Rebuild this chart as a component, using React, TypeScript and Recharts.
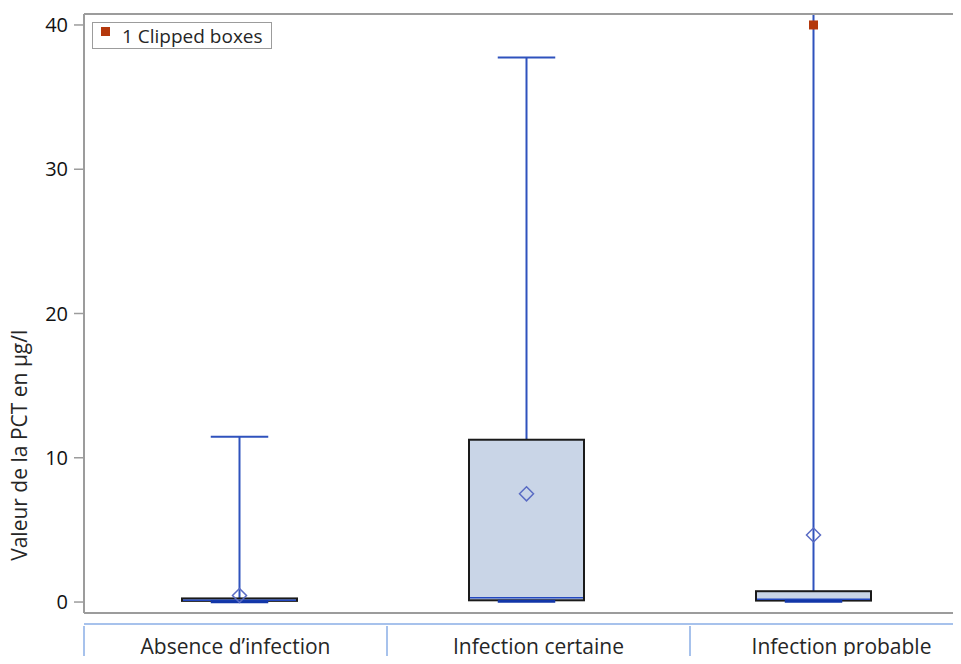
import { ComposedChart, Bar, Scatter, XAxis, YAxis, Legend } from 'recharts';

const groupes = ['Absence d\u2019infection', 'Infection certaine', 'Infection probable'];
const minimum = [0.02, 0.05, 0.05];
const q1 = [0.08, 0.12, 0.1];
const mediane = [0.12, 0.3, 0.2];
const q3 = [0.25, 11.25, 0.75];
const maximum = [11.45, 37.75, 40.76];
const moyenne = [0.45, 7.5, 4.65];
const tronque: (number | null)[] = [null, null, 40];
const yTicks = [0, 10, 20, 30, 40];

const FONT = '"Open Sans", "Noto Sans", sans-serif';
const GRIS = '#9c9c9c';
const BLEU = '#2f52bd';

const data = groupes.map((groupe, i) => ({
  groupe,
  moustache: [minimum[i], maximum[i]],
  q1: q1[i],
  mediane: mediane[i],
  q3: q3[i],
  moyenne: moyenne[i],
  tronque: tronque[i],
}));

// box + whiskers drawn inside the range bar [min, max]
function Boite(props: any) {
  const { x, y, width, height, payload } = props;
  const [lo, hi] = payload.moustache;
  const top = Math.min(y, y + height);
  const h = Math.abs(height);
  const py = (v: number) => top + (h * (hi - v)) / (hi - lo);
  const cx = x + width / 2;
  const demiCap = width / 4;
  const coupe = payload.tronque != null; // clipped whisker: no top cap
  return (
    <g>
      <line x1={cx} x2={cx} y1={py(hi)} y2={py(payload.q3)} stroke={BLEU} strokeWidth={2} />
      {!coupe && (
        <line x1={cx - demiCap} x2={cx + demiCap} y1={py(hi)} y2={py(hi)} stroke={BLEU} strokeWidth={2} />
      )}
      <rect
        x={x}
        y={py(payload.q3)}
        width={width}
        height={Math.max(py(payload.q1) - py(payload.q3), 1)}
        fill="#c9d5e7"
        stroke="#1a1a1a"
        strokeWidth={2}
      />
      <line x1={x + 1} x2={x + width - 1} y1={py(payload.mediane)} y2={py(payload.mediane)} stroke="#2348c0" strokeWidth={1.5} />
      <line x1={cx} x2={cx} y1={py(payload.q1)} y2={py(lo)} stroke={BLEU} strokeWidth={2} />
      <line x1={cx - demiCap} x2={cx + demiCap} y1={py(lo)} y2={py(lo)} stroke="#1236a8" strokeWidth={3} />
    </g>
  );
}

function Losange(props: any) {
  const { cx, cy } = props;
  if (cx == null || cy == null || isNaN(cy)) return <g />;
  const r = 7;
  return (
    <polygon
      points={`${cx},${cy - r} ${cx + r},${cy} ${cx},${cy + r} ${cx - r},${cy}`}
      fill="none"
      stroke="#5a6cc4"
      strokeWidth={1.5}
    />
  );
}

function Carre(props: any) {
  const { cx, cy, payload } = props;
  if (payload.tronque == null || cy == null || isNaN(cy)) return <g />;
  return <rect x={cx - 4.5} y={cy - 4.5} width={9} height={9} fill="#b4380c" />;
}

function CelluleTick(props: any) {
  const { x, y, payload } = props;
  const demi = payload.offset ?? 0;
  return (
    <g>
      <line x1={x - demi} x2={x - demi} y1={y} y2={y + 42} stroke="#8aaee6" strokeWidth={1.5} />
      <text x={x} y={y + 28} textAnchor="middle" fontFamily={FONT} fontSize={21} fill="#262626">
        {payload.value}
      </text>
    </g>
  );
}

function EtiquetteY(props: any) {
  const { viewBox } = props;
  const x = viewBox.x + 19;
  const y = viewBox.y + viewBox.height * 0.72;
  return (
    <text
      x={x}
      y={y}
      transform={`rotate(-90, ${x}, ${y})`}
      textAnchor="middle"
      dominantBaseline="central"
      fontFamily={FONT}
      fontSize={21}
      fill="#262626"
    >
      Valeur de la PCT en µg/l
    </text>
  );
}

function LegendeTronque() {
  const n = tronque.filter((v) => v != null).length;
  return (
    <div
      style={{
        border: `1.5px solid ${GRIS}`,
        width: 180,
        height: 27,
        boxSizing: 'border-box',
        display: 'flex',
        alignItems: 'center',
        fontFamily: FONT,
        fontSize: 19,
        color: '#262626',
        background: '#fff',
        whiteSpace: 'nowrap',
      }}
    >
      <span style={{ display: 'inline-block', width: 9, height: 9, background: '#b4380c', margin: '0 12px 8px 8px' }} />
      {n} Clipped boxes
    </div>
  );
}

export default function App() {
  return (
    <div style={{ margin: -8, width: 961, height: 664, overflow: 'hidden', background: '#fff' }}>
      <ComposedChart
        width={980}
        height={664}
        data={data}
        margin={{ top: 13, right: 11, bottom: 0, left: 0 }}
      >
        <XAxis
          dataKey="groupe"
          height={11}
          padding={{ left: 12, right: 12 }}
          tick={false}
          tickSize={4}
          tickLine={{ stroke: GRIS, strokeWidth: 1.5 }}
          axisLine={{ stroke: GRIS, strokeWidth: 2 }}
        />
        <XAxis
          xAxisId="table"
          dataKey="groupe"
          height={40}
          padding={{ left: 0, right: -24 }}
          tickSize={0}
          tickLine={false}
          tick={<CelluleTick />}
          axisLine={{ stroke: '#8aaee6', strokeWidth: 1.5 }}
          interval={0}
        />
        <XAxis
          xAxisId="haut"
          dataKey="groupe"
          orientation="top"
          height={1}
          tick={false}
          tickLine={false}
          axisLine={{ stroke: GRIS, strokeWidth: 2 }}
        />
        <YAxis
          type="number"
          width={84}
          domain={[-0.76, 40.76]}
          allowDataOverflow
          ticks={yTicks}
          tickSize={10}
          tickMargin={6}
          tick={{ fontFamily: FONT, fontSize: 20, fill: '#111' }}
          tickLine={{ stroke: GRIS, strokeWidth: 1.5 }}
          axisLine={{ stroke: GRIS, strokeWidth: 2 }}
          label={<EtiquetteY />}
        />
        <Legend
          layout="vertical"
          align="center"
          verticalAlign="middle"
          content={() => <LegendeTronque />}
          wrapperStyle={{ top: 22, left: 92, width: 180, height: 27 }}
        />
        <Bar dataKey="moustache" barSize={115} shape={<Boite />} isAnimationActive={false} />
        <Scatter dataKey="moyenne" shape={<Losange />} isAnimationActive={false} />
        <Scatter dataKey="tronque" shape={<Carre />} isAnimationActive={false} />
      </ComposedChart>
    </div>
  );
}
